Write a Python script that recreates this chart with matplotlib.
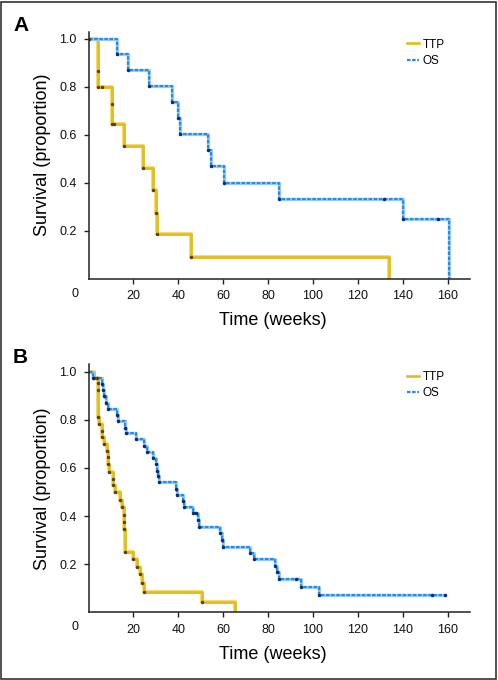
"Kaplan-Meier curves: TTP and OS, panels A and B"
import matplotlib
matplotlib.use("Agg")
import matplotlib.pyplot as plt
from matplotlib.patches import Rectangle

plt.rcParams['font.family'] = ['Liberation Sans', 'DejaVu Sans']

"panel A data (weeks, survival proportion)"
ttp_a_t = [0, 4.4, 4.4, 10.4, 10.4, 15.6, 24.4, 28.6, 30.1, 30.7, 45.6, 133.8]
ttp_a_s = [1.0, 0.866, 0.800, 0.729, 0.645, 0.553, 0.463, 0.370, 0.275, 0.185, 0.092, 0.0]
ttp_a_cens_t = [0.3, 6.2, 11.3]
ttp_a_cens_s = [1.0, 0.800, 0.645]

os_a_t = [0, 12.9, 17.6, 27.1, 37.2, 39.9, 40.9, 53.3, 54.5, 60.3, 84.8, 140.0, 160.8]
os_a_s = [1.0, 0.937, 0.871, 0.804, 0.737, 0.670, 0.602, 0.535, 0.468, 0.400, 0.333, 0.250, 0.0]
os_a_cens_t = [131.9, 155.6]
os_a_cens_s = [0.333, 0.250]

"panel B data"
ttp_b_t = [0, 2.4, 4.2, 4.2, 4.4, 4.9, 6.2, 6.2, 6.7, 8.2, 8.6, 8.9, 9.3, 10.7, 11.1, 11.9,
           14.1, 14.8, 15.9, 16.0, 16.0, 16.3, 19.7, 21.8, 23.0, 24.0, 24.8, 50.4, 65.2]
ttp_b_s = [1.0, 0.976, 0.953, 0.925, 0.810, 0.782, 0.755, 0.727, 0.699, 0.671, 0.644, 0.616,
           0.585, 0.554, 0.527, 0.498, 0.468, 0.436, 0.405, 0.377, 0.347, 0.250, 0.222, 0.190,
           0.158, 0.121, 0.084, 0.042, 0.0]
ttp_b_cens_t = [3.7]
ttp_b_cens_s = [0.976]

os_b_t = [0, 2.2, 5.9, 6.4, 7.0, 7.9, 8.9, 12.9, 13.3, 16.3, 16.6, 21.1, 24.6, 26.2, 28.9,
          29.9, 30.7, 31.1, 31.4, 39.0, 39.6, 42.2, 42.7, 46.7, 48.9, 49.3, 58.8, 59.3, 60.0,
          71.9, 73.8, 83.3, 84.0, 84.9, 94.8, 102.5, 159.0]
os_b_s = [1.0, 0.974, 0.950, 0.925, 0.900, 0.872, 0.847, 0.821, 0.796, 0.766, 0.745, 0.721,
          0.693, 0.666, 0.641, 0.616, 0.588, 0.565, 0.541, 0.513, 0.488, 0.463, 0.437, 0.412,
          0.384, 0.354, 0.329, 0.301, 0.273, 0.248, 0.221, 0.193, 0.166, 0.138, 0.105, 0.070,
          0.070]
os_b_cens_t = [47.9, 92.3, 153.1, 159.0]
os_b_cens_s = [0.412, 0.138, 0.070, 0.070]

x_ticks = [20, 40, 60, 80, 100, 120, 140, 160]
y_ticks = [0.2, 0.4, 0.6, 0.8, 1.0]

"colours"
yellow = "#E2BC1C"
yellow_light = "#F3DC74"
blue = "#2A8BE2"
blue_light = "#9ECDF3"
dot_y = "#5B4112"
dot_b = "#10296A"

W, H = 498, 680
fig = plt.figure(figsize=(W / 100, H / 100), dpi=100)
fig.patches.append(Rectangle((0.002, 0.002), 0.994, 0.995, transform=fig.transFigure,
                             fill=False, edgecolor="#333333", linewidth=1.2))


def panel(rect, ttp_t, ttp_s, ttp_ct, ttp_cs, os_t, os_s, os_ct, os_cs, label, label_y, zero_y, top):
    ax = fig.add_axes(rect)
    "TTP"
    ax.plot(ttp_t, ttp_s, drawstyle="steps-post", color=yellow_light, lw=2.9, solid_capstyle="butt")
    ax.plot(ttp_t, ttp_s, drawstyle="steps-post", color=yellow, lw=1.9, label="TTP")
    "OS"
    ax.plot(os_t, os_s, drawstyle="steps-post", color=blue_light, lw=2.3)
    ax.plot(os_t, os_s, drawstyle="steps-post", color=blue, lw=1.6, dashes=(1.6, 0.7), label="OS")
    "dots"
    ax.plot(ttp_t[1:-1] + ttp_ct, ttp_s[1:-1] + ttp_cs, ls="none", marker="o", ms=2.5,
            color=dot_y, mec="none")
    ax.plot(os_t[1:-1] + os_ct, os_s[1:-1] + os_cs, ls="none", marker="o", ms=2.5,
            color=dot_b, mec="none")

    ax.set_xlim(0, 170)
    ax.set_ylim(0, top)
    ax.set_xticks(x_ticks)
    ax.set_yticks(y_ticks)
    ax.set_yticklabels(["%.1f" % v for v in y_ticks])
    ax.spines["top"].set_visible(False)
    ax.spines["right"].set_visible(False)
    for s in ["left", "bottom"]:
        ax.spines[s].set_linewidth(1.1)
        ax.spines[s].set_color("#222222")
    ax.tick_params(direction="out", length=3.5, width=1.0, labelsize=9, color="#222222",
                   labelcolor="#111111", pad=5)
    ax.set_xlabel("Time (weeks)", fontsize=13, labelpad=8)
    ax.xaxis.set_label_coords(0.482, -0.135)
    ax.set_ylabel("Survival (proportion)", fontsize=13, labelpad=6)

    ax.legend(loc="upper left", bbox_to_anchor=(0.835, 0.972), frameon=False,
              fontsize=8.5, handlelength=1.0, handletextpad=0.35, borderpad=0,
              borderaxespad=0, labelspacing=0.35)

    fig.text(13 / W, 1 - label_y / H, label, fontsize=15, fontweight="bold", va="baseline")
    fig.text(75 / W, 1 - zero_y / H, "0", fontsize=9, ha="center", va="center", color="#111111")
    return ax


panel([88.5 / W, 1 - 278.6 / H, 381.5 / W, 246.9 / H],
      ttp_a_t, ttp_a_s, ttp_a_cens_t, ttp_a_cens_s,
      os_a_t, os_a_s, os_a_cens_t, os_a_cens_s, "A", 30.7, 294.3, 1.03)

panel([88.5 / W, 1 - 612.2 / H, 381.5 / W, 247.9 / H],
      ttp_b_t, ttp_b_s, ttp_b_cens_t, ttp_b_cens_s,
      os_b_t, os_b_s, os_b_cens_t, os_b_cens_s, "B", 363.3, 626.7, 1.031)

plt.savefig("out.png", dpi=100)
